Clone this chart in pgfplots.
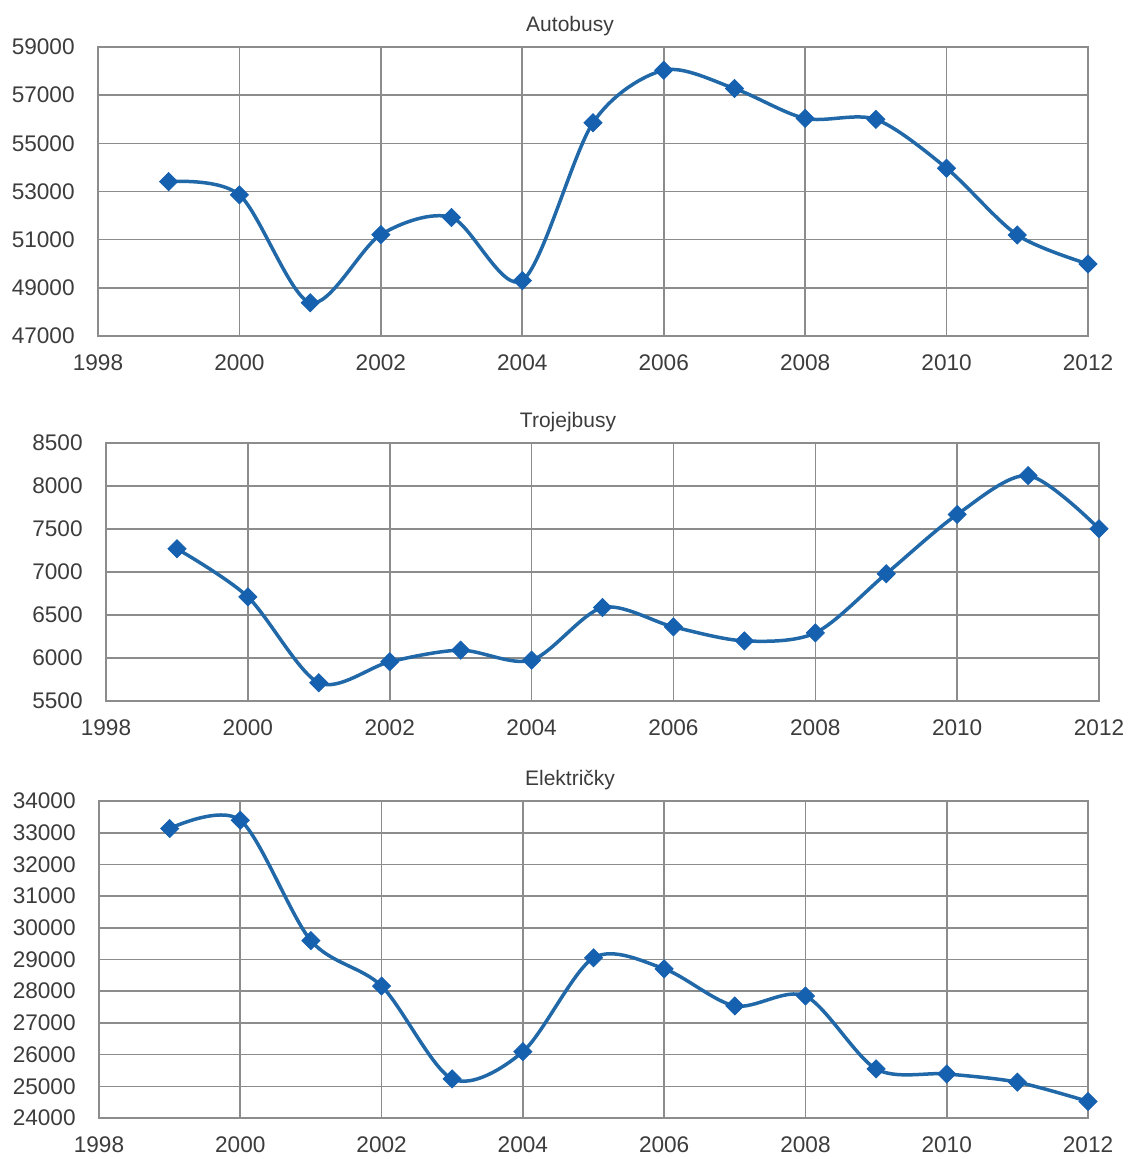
\documentclass[border=0pt]{standalone}
\usepackage{pgfplots}
\pgfplotsset{compat=1.18}
\usepackage{fontspec}
\setmainfont{Liberation Sans}
\definecolor{lineblue}{RGB}{32,104,168}
\definecolor{markblue}{RGB}{22,96,176}
\definecolor{gridgray}{RGB}{140,140,140}
\definecolor{txtgray}{RGB}{60,60,60}
\pgfplotsset{
  panel/.style={
    scale only axis,
    anchor=north west,
    xmin=1998, xmax=2012,
    xtick={1998,2000,...,2012},
    grid=major,
    major grid style={draw=gridgray, line width=0.8pt},
    axis line style={draw=gridgray, line width=0.8pt},
    major tick length=0pt,
    tick style={draw=none},
    clip=false,
    scaled ticks=false,
    /pgf/number format/fixed,
    /pgf/number format/1000 sep={},
    /pgf/number format/assume math mode=true,
    ticklabel style={font=\fontsize{11.3}{13}\selectfont, text=txtgray, inner sep=0pt},
    xticklabel style={anchor=north, yshift=-9pt},
    yticklabel style={anchor=east, xshift=-11.5pt},
  },
  ser/.style={
    color=lineblue, line width=1.75pt, smooth, tension=0.5,
    mark=square*, mark size=3.2pt,
    mark options={rotate=45, fill=markblue, draw=markblue, line width=0.4pt},
  },
}
\begin{document}
\begin{tikzpicture}
\path[use as bounding box] (0,0) rectangle (565pt,-579.5pt);

\node[font=\fontsize{10.5}{12}\selectfont, text=txtgray] at (285pt,-13pt) {Autobusy};
\begin{axis}[panel, at={(49pt,-23.5pt)}, width=495pt, height=144.5pt,
  ymin=47000, ymax=59000, ytick={47000,49000,...,59000}]
\addplot[ser] coordinates {
(1999,53410) (2000,52860) (2001,48380) (2002,51210) (2003,51920) (2004,49300)
(2005,55855) (2006,58035) (2007,57276) (2008,56034) (2009,55993) (2010,53966)
(2011,51193) (2012,49993)};
\end{axis}

\node[font=\fontsize{10.5}{12}\selectfont, text=txtgray] at (284pt,-211pt) {Trojejbusy};
\begin{axis}[panel, at={(53pt,-221.5pt)}, width=496.5pt, height=129pt,
  ymin=5500, ymax=8500, ytick={5500,6000,...,8500}]
\addplot[ser] coordinates {
(1999,7270) (2000,6710) (2001,5712) (2002,5956) (2003,6091) (2004,5975)
(2005,6586) (2006,6362) (2007,6199) (2008,6292) (2009,6980) (2010,7669)
(2011,8121) (2012,7502)};
\end{axis}

\node[font=\fontsize{10.5}{12}\selectfont, text=txtgray] at (285pt,-390pt) {Električky};
\begin{axis}[panel, at={(49.5pt,-400.5pt)}, width=494.5pt, height=158.5pt,
  ymin=24000, ymax=34000, ytick={24000,25000,...,34000}]
\addplot[ser] coordinates {
(1999,33132) (2000,33393) (2001,29596) (2002,28163) (2003,25234) (2004,26092)
(2005,29052) (2006,28707) (2007,27536) (2008,27849) (2009,25548) (2010,25391)
(2011,25130) (2012,24523)};
\end{axis}
\end{tikzpicture}
\end{document}
